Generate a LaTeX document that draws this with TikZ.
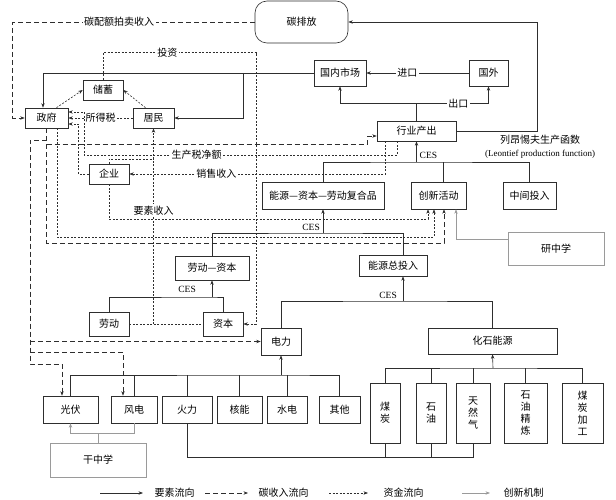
\documentclass[tikz,border=0pt]{standalone}
\usepackage{fontspec}
\setmainfont{Liberation Serif}
\newfontfamily\cjk{Noto Sans CJK SC}
\usetikzlibrary{positioning,arrows.meta,calc}
\definecolor{flowInk}{HTML}{2E2E2E}
\definecolor{learnInk}{HTML}{9A9A9A}

\begin{document}
\begin{tikzpicture}[x=1pt, y=-1pt, >={Stealth[length=4.5pt,width=3.4pt]},
    every node/.style={font=\cjk\fontsize{10}{12}\selectfont},
    box/.style={draw=flowInk, line width=0.6pt, inner sep=0pt},
    learnbox/.style={draw=learnInk, line width=0.6pt, inner sep=0pt},
    flow/.style={draw=flowInk, line width=0.6pt},
    carbon/.style={flow, dash pattern=on 5pt off 3pt},
    fund/.style={flow, dash pattern=on 2pt off 1.5pt},
    learn/.style={draw=learnInk, line width=0.6pt},
    lbl/.style={fill=white, inner sep=1.5pt},
    ces/.style={font=\rmfamily\fontsize{9.5}{11}\selectfont, inner sep=1pt}]
  \useasboundingbox (0,0) rectangle (616,500);

  \node[box, rounded corners=12pt, minimum width=93, minimum height=42] (tpf) at (301.5,22) {碳排放};
  \node[box, minimum width=52, minimum height=26] (gnsc) at (340,73) {国内市场};
  \node[box, minimum width=39, minimum height=26] (gw) at (488.5,73) {国外};
  \node[box, minimum width=40, minimum height=20] (cx) at (103,90) {储蓄};
  \node[box, minimum width=43, minimum height=20] (zf) at (46.5,118) {政府};
  \node[box, minimum width=41, minimum height=20] (jm) at (153.5,118) {居民};
  \node[box, minimum width=79, minimum height=20] (hycc) at (416.5,131) {行业产出};
  \node[box, minimum width=40, minimum height=20] (qy) at (109,174) {企业};
  \node[box, minimum width=122, minimum height=27] (fhp) at (323,195.5) {能源—资本—劳动复合品};
  \node[box, minimum width=55, minimum height=27] (cxhd) at (438.5,195.5) {创新活动};
  \node[box, minimum width=53, minimum height=27] (zjtr) at (529.5,195.5) {中间投入};
  \node[learnbox, minimum width=96, minimum height=33] (yzx) at (556,248.5) {研中学};
  \node[box, minimum width=74, minimum height=24] (ldzb) at (212,268) {劳动—资本};
  \node[box, minimum width=68, minimum height=21] (nyztr) at (393,265.5) {能源总投入};
  \node[box, minimum width=40, minimum height=24] (ld) at (109,324) {劳动};
  \node[box, minimum width=40, minimum height=24] (zb) at (223,324) {资本};
  \node[box, minimum width=40, minimum height=27] (dl) at (281,341.5) {电力};
  \node[box, minimum width=129, minimum height=26] (hsny) at (492.5,341) {化石能源};
  \foreach \nm/\x/\w/\txt in {gf/70.5/55/光伏, fd/134/46/风电, hl/187/50/火力, hn/239.5/45/核能, sd/287/40/水电, qt/339.5/41/其他}
    \node[box, minimum width=\w, minimum height=27] (\nm) at (\x,409.5) {\txt};
  \foreach \nm/\x/\w/\txt in {mt/385/30/{煤\\炭}, sy/431/30/{石\\油}, trq/473/34/{天\\然\\气}, sylj/525.5/43/{石\\油\\精\\炼}, mtjg/582.5/41/{煤\\炭\\加\\工}}
    \node[box, align=center, minimum width=\w, minimum height=60] (\nm) at (\x,413) {\txt};
  \node[learnbox, minimum width=96, minimum height=34] (gzx) at (98,460) {干中学};
  \node[align=center, font=\rmfamily\fontsize{9}{13}\selectfont] (ltf) at (540,147)
    {{\cjk\fontsize{10}{13}\selectfont 列昂惕夫生产函数}\\(Leontief production function)};

  \coordinate (cTop) at (537,22);
  \coordinate (busA) at (416.5,162);
  \coordinate (busB) at (323,233);
  \coordinate (busC) at (212,297);
  \coordinate (busD) at (403,301);
  \coordinate (busE) at (281,375);
  \coordinate (busF) at (493,368);
  \coordinate (busG) at (187,457);
  \coordinate (busH) at (98,433);
  \coordinate (inQ) at ([xshift=-10.5pt]cxhd.south);
  \coordinate (inF) at ([xshift=-4.5pt]cxhd.south);
  \coordinate (inC) at ([xshift=5.5pt]cxhd.south);
  \coordinate (inY) at ([xshift=17.5pt]cxhd.south);

  % 要素流向
  \draw[flow,->] (hycc.east) -| (cTop) -- (tpf.east);
  \draw[flow,->] (gw) -- (gnsc) node[pos=0.6, lbl]{进口};
  \draw[flow,->] (hycc.north) -- ++(0,-17) coordinate (ckJ) -| (gnsc.south);
  \draw[flow,->] (ckJ) -| (gw.south) node[pos=0.29, lbl]{出口};
  \draw[flow,->] (gnsc.west) -| ([xshift=-3.5pt]zf.north);
  \draw[flow,->] (gnsc.west -| 243,0) |- (jm.east);
  \draw[flow,->] (busA) -- (hycc.south);
  \draw[flow] (fhp.north) |- (busA) -| (zjtr.north);
  \draw[flow] ([xshift=4.5pt]cxhd.north) -- ([xshift=4.5pt]cxhd.north |- busA);
  \node[ces, anchor=south west] (cesA) at ([xshift=2pt,yshift=2pt]busA) {CES};
  \draw[flow,->] (busB) -- (fhp.south);
  \draw[flow] (ldzb.north) |- (busB) -| ([xshift=10pt]nyztr.north);
  \node[ces, anchor=south east] (cesB) at ([xshift=-2pt,yshift=1pt]busB) {CES};
  \draw[flow,->] (busC) -- (ldzb.south);
  \draw[flow] (ld.north) |- (busC) -| (zb.north);
  \node[ces, anchor=south east] (cesC) at ([xshift=-15pt,yshift=3pt]busC) {CES};
  \draw[flow,->] (busD) -- ([xshift=10pt]nyztr.south);
  \draw[flow] (dl.north) |- (busD) -| (hsny.north);
  \node[ces, anchor=south east] (cesD) at ([xshift=-5pt,yshift=1pt]busD) {CES};
  \draw[flow,->] (busE) -- (dl.south);
  \draw[flow] (gf.north) |- (busE) -| (qt.north);
  \foreach \nm in {fd,hl,hn,sd}
    \draw[flow] (\nm.north) -- (\nm.north |- busE);
  \draw[flow,->] (busF) -- (hsny.south);
  \draw[flow] (mt.north) |- (busF) -| (mtjg.north);
  \foreach \nm in {sy,trq,sylj}
    \draw[flow] (\nm.north) -- (\nm.north |- busF);
  \draw[flow] (hl.south) -- (busG) -| (trq.south);
  \foreach \nm in {mt,sy}
    \draw[flow] (\nm.south) -- (\nm.south |- busG);

  % 创新机制
  \draw[learn,->] ([yshift=9pt]yzx.west) -| (inY);
  \draw[learn] (gzx.north) -- (busH);
  \draw[learn,->] (busH) -| (gf.south);
  \draw[learn] (busH) -| (fd.south);

  % 碳收入流向
  \draw[carbon,->] (tpf.west) -| ([xshift=-12pt]zf.west) node[pos=0.28, lbl]{碳配额拍卖收入} -- (zf.west);
  \draw[carbon,->] (zf.south) |- (inC |- 0,243) -- (inC);
  \draw[carbon,->] (zf.south |- 0,140) -| (30,364) -| ([xshift=-8.5pt]gf.north);
  \draw[carbon,->] (dl.west -| 30,0) -- (dl.west);
  \draw[carbon,->] (30,352) -| ([xshift=-11pt]fd.north);
  \draw[carbon,->] (zf.south |- 0,144) -| ([xshift=-9pt,yshift=-5pt]hycc.west) -- ([yshift=-5pt]hycc.west);

  % 资金流向
  \draw[fund,->] (cx.north) -- ++(0,-27) -| ([xshift=13pt]zb.east) node[pos=0.21, lbl]{投资} -- (zb.east);
  \draw[fund,->] (jm.west) -- (zf.east) node[midway, lbl]{所得税};
  \draw[fund,->] ([xshift=10pt]zf.north) -- (cx.west);
  \draw[fund,->] ([xshift=-8pt]jm.north) -- (cx.east);
  \draw[fund,->] ([xshift=-19.5pt]hycc.south) |- (84,155) node[pos=0.82, lbl]{生产税净额} |- ([yshift=6pt]zf.east);
  \draw[fund,->] (qy.west) -| ([xshift=10pt,yshift=-6pt]zf.east) -- ([yshift=-6pt]zf.east);
  \draw[fund,->] ([xshift=-31pt]hycc.south) |- (qy.east) node[pos=0.83, lbl]{销售收入};
  \draw[fund,->] ([xshift=10.5pt]zf.south) |- (inF |- 0,237) -- (inF);
  \draw[fund,->] (qy.south) |- (inQ |- 0,219) -- (inQ);
  \draw[fund] (ld.east) -- (zb.west);
  \draw[fund,->] (ld.east -| jm.south) -- (jm.south) node[pos=0.58, lbl]{要素收入};
  \draw[fund] (qy.north) |- (jm.south |- 0,159);

  % 图例
  \node[anchor=west] (lgA) at (151,493) {要素流向};
  \node[anchor=west] (lgB) at (255,493) {碳收入流向};
  \node[anchor=west] (lgC) at (380,493) {资金流向};
  \node[anchor=west] (lgD) at (500,493) {创新机制};
  \draw[flow,->] ([xshift=-51pt]lgA.west) -- ([xshift=-8pt]lgA.west);
  \draw[carbon,->] ([xshift=-50pt]lgB.west) -- ([xshift=-7pt]lgB.west);
  \draw[fund,->] ([xshift=-51pt]lgC.west) -- ([xshift=-12pt]lgC.west);
  \draw[learn,->] ([xshift=-38pt]lgD.west) -- ([xshift=-10pt]lgD.west);
\end{tikzpicture}
\end{document}
